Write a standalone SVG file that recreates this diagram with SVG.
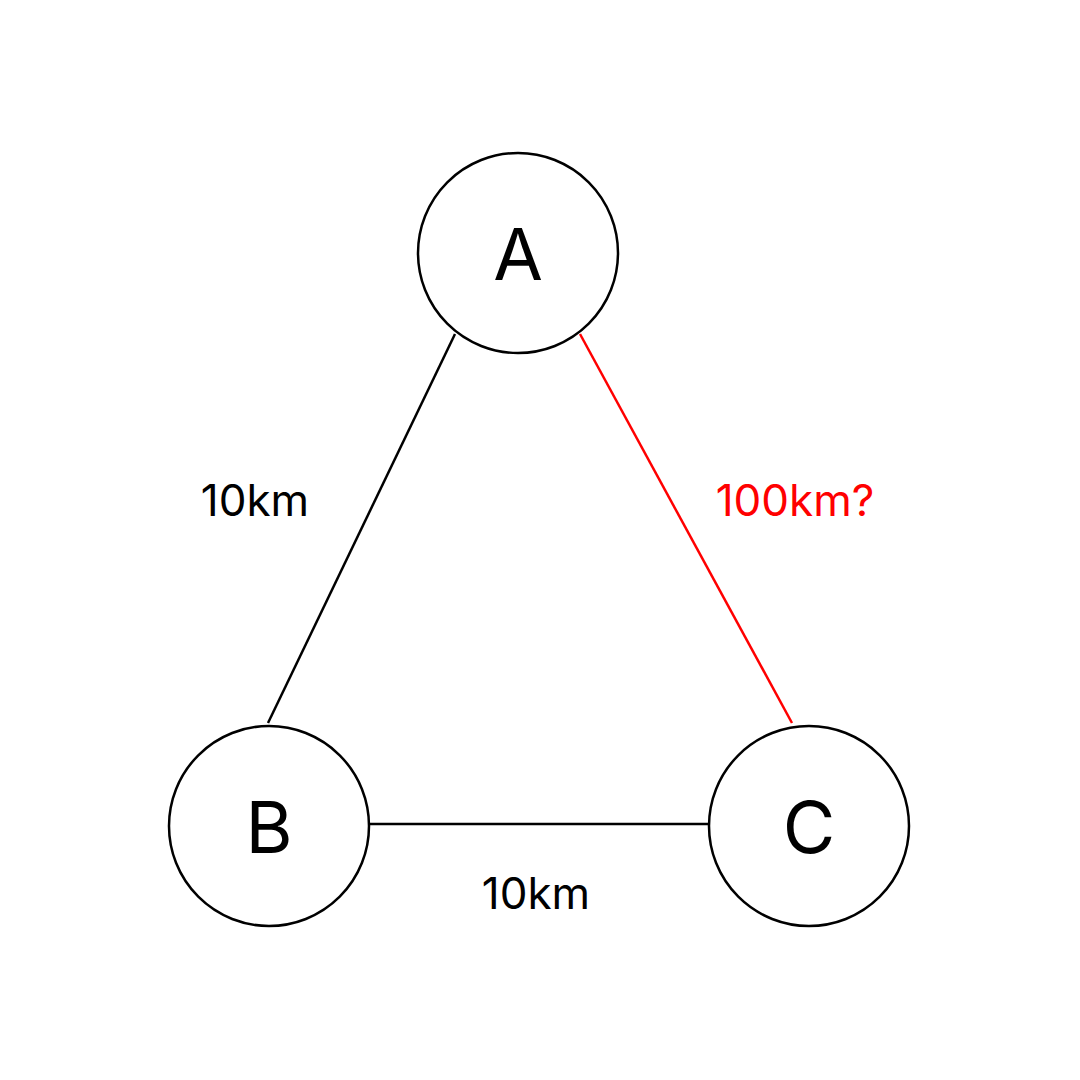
<svg xmlns="http://www.w3.org/2000/svg" width="1080" height="1080" viewBox="0 0 1080 1080">
<style>
.n{fill:#fff;stroke:#000;stroke-width:2.5}
.t{font-family:Inter,"Noto Sans",sans-serif;text-anchor:middle}
.big{font-size:72px}
.lbl{font-size:44px}
</style>
<rect width="1080" height="1080" fill="#fff"/>
<g id="connectors" stroke-width="2.5">
<line x1="455" y1="334" x2="268" y2="723" stroke="#000"/>
<line x1="580" y1="334" x2="792" y2="723" stroke="#f00"/>
<line x1="370" y1="824" x2="708" y2="824" stroke="#000"/>
</g>
<g id="A"><circle class="n" cx="518" cy="253" r="100"/><text class="t big" x="518" y="280">A</text></g>
<g id="B"><circle class="n" cx="269" cy="826" r="100"/><text class="t big" x="269" y="853">B</text></g>
<g id="C"><circle class="n" cx="809" cy="826" r="100"/><text class="t big" x="809" y="853">C</text></g>
<g id="labels">
<text class="t lbl" x="255" y="516">10km</text>
<text class="t lbl" x="795" y="516" fill="#f00">100km?</text>
<text class="t lbl" x="536" y="909">10km</text>
</g>
</svg>
